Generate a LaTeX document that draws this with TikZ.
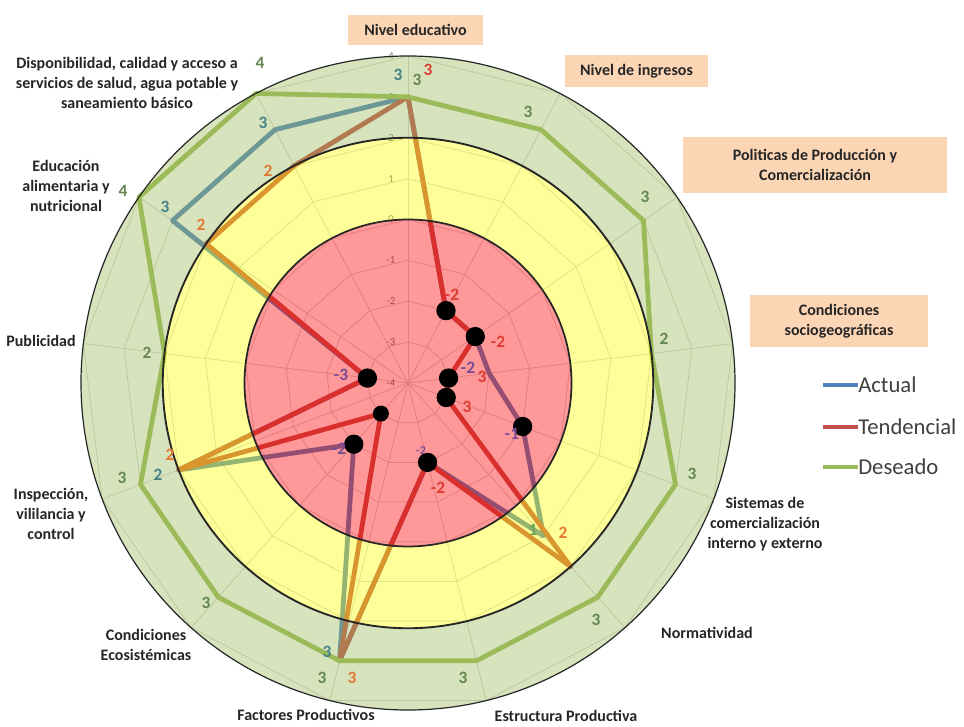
\documentclass[tikz,border=0pt]{standalone}
\usepackage{fontspec}
\setmainfont{Carlito}
\definecolor{cA}{RGB}{79,129,189}
\definecolor{cT}{RGB}{192,80,77}
\definecolor{cD}{RGB}{155,187,89}
\definecolor{zG}{RGB}{155,187,89}
\definecolor{zY}{RGB}{255,255,0}
\definecolor{zR}{RGB}{255,0,0}
\definecolor{peach}{RGB}{252,213,180}
\definecolor{gridc}{RGB}{210,210,210}
\definecolor{catc}{RGB}{38,38,38}
\definecolor{legc}{RGB}{64,64,64}
\definecolor{tickc}{RGB}{120,120,120}
\definecolor{labD}{RGB}{100,135,80}
\definecolor{labA}{RGB}{70,130,135}
\definecolor{labAp}{RGB}{120,75,150}
\definecolor{labAg}{RGB}{105,165,85}
\definecolor{labTr}{RGB}{220,60,50}
\definecolor{labTo}{RGB}{225,120,50}
\begin{document}
\begin{tikzpicture}[x=0.75pt,y=-0.75pt,
  grid/.style={draw=gridc, line width=0.6pt},
  series/.style={line width=3.6pt, line join=round, line cap=round},
  dot/.style={circle, fill=black, inner sep=0pt, minimum size=14.5pt},
  cat/.style={font=\bfseries\fontsize{12}{15}\selectfont, text=catc, align=center, inner sep=1pt},
  catbox/.style={cat, fill=peach},
  val/.style={font=\bfseries\fontsize{13}{13}\selectfont, inner sep=0pt},
  tick/.style={font=\fontsize{8}{8}\selectfont, text=tickc, inner sep=0pt},
  leg/.style={font=\fontsize{17}{17}\selectfont, text=legc, inner sep=0pt, anchor=west},
  legline/.style={line width=3.6pt}
]
\useasboundingbox (0,0) rectangle (964,727);
\fill[white] (0,0) rectangle (964,727);
\coordinate (O) at (408,383);

\begin{scope}[shift={(408,383)}]
  % grid polygons
  \foreach \v in {-3,...,4} {
    \pgfmathsetmacro\r{(\v+4)*40.875}
    \draw[grid] (-90:\r) \foreach \k in {1,...,12}{ -- ({\k*360/13-90}:\r) } -- cycle;
  }
  % spokes
  \foreach \k in {0,...,12} {
    \coordinate (S\k) at ({\k*360/13-90}:327);
    \draw[grid] (0,0) -- (S\k);
  }
  % data points
  \foreach \v [count=\i from 0] in {3,-2,-2,-2,-1,1,-2,3,-2,2,-3,3,3}
    \coordinate (A\i) at ({\i*360/13-90}:{(\v+4)*40.875});
  \foreach \v [count=\i from 0] in {3,-2,-2,-3,-3,2,-2,3,-3,2,-3,2,2}
    \coordinate (T\i) at ({\i*360/13-90}:{(\v+4)*40.875});
  \foreach \v [count=\i from 0] in {3,3,3,2,3,3,3,3,3,3,2,4,4}
    \coordinate (D\i) at ({\i*360/13-90}:{(\v+4)*40.875});
\end{scope}

% axis tick labels
\foreach \v [count=\i] in {-4,...,4}
  \node[tick] (tk\i) at (391,{383-(\v+4)*40.875}) {\v};

% series
\draw[series, cA] (A0) -- (A1) -- (A2) -- (A3) -- (A4) -- (A5) -- (A6) -- (A7) -- (A8) -- (A9) -- (A10) -- (A11) -- (A12) -- cycle;
\draw[series, cT] (T0) -- (T1) -- (T2) -- (T3) -- (T4) -- (T5) -- (T6) -- (T7) -- (T8) -- (T9) -- (T10) -- (T11) -- (T12) -- cycle;
\draw[series, cD] (D0) -- (D1) -- (D2) -- (D3) -- (D4) -- (D5) -- (D6) -- (D7) -- (D8) -- (D9) -- (D10) -- (D11) -- (D12) -- cycle;

% translucent zones
\fill[zG, fill opacity=0.4, even odd rule] (O) circle[radius=245.25pt] (O) circle[radius=183.94pt];
\fill[zY, fill opacity=0.4, even odd rule] (O) circle[radius=183.94pt] (O) circle[radius=122.625pt];
\fill[zR, fill opacity=0.4] (O) circle[radius=122.625pt];
\draw[black!85, line width=0.9pt] (O) circle[radius=245.25pt];
\draw[black!85, line width=1.4pt] (O) circle[radius=183.94pt];
\draw[black!85, line width=1.3pt] (O) circle[radius=122.625pt];

% markers
\node[dot] (mT1) at (T1) {};
\node[dot] (mT2) at (T2) {};
\node[dot] (mT3) at (T3) {};
\node[dot] (mT4) at (T4) {};
\node[dot] (mA4) at (A4) {};
\node[dot] (mT6) at (T6) {};
\node[dot, minimum size=12pt] (mT8) at (T8) {};
\node[dot] (mA8) at (A8) {};
\node[dot] (mT10) at (T10) {};

% value labels: Deseado
\node[val, text=labD] (vD0) at (417,80) {3};
\node[val, text=labD] (vD1) at (528,112) {3};
\node[val, text=labD] (vD2) at (645,197) {3};
\node[val, text=labD] (vD3) at (664,339) {2};
\node[val, text=labD] (vD4) at (692,474) {3};
\node[val, text=labD] (vD5) at (596,620) {3};
\node[val, text=labD] (vD6) at (463,678) {3};
\node[val, text=labD] (vD7) at (322,678) {3};
\node[val, text=labD] (vD8) at (206,603) {3};
\node[val, text=labD] (vD9) at (122,478) {3};
\node[val, text=labD] (vD10) at (147,353) {2};
\node[val, text=labD] (vD11) at (123,191) {4};
\node[val, text=labD] (vD12) at (260,63) {4};
% Actual
\node[val, text=labA] (vA0) at (398,75) {3};
\node[val, text=labA] (vA12) at (263,123) {3};
\node[val, text=labA] (vA11) at (165,207) {3};
\node[val, text=labA] (vA9) at (158,475) {2};
\node[val, text=labA] (vA7) at (327,652) {3};
\node[val, text=labAp] (vA10) at (341,375) {-3};
\node[val, text=labAp] (vA8) at (339,449) {-2};
\node[val, text=labAp, font=\bfseries\fontsize{9}{9}\selectfont] (vA6) at (421,451) {-2};
\node[val, text=labAp] (vA4) at (512,434) {-1};
\node[val, text=labAp] (vA3) at (468,368) {-2};
\node[val, text=labAg] (vA5) at (533,530) {1};
% Tendencial
\node[val, text=labTr] (vT0) at (428,70) {3};
\node[val, text=labTo] (vT12) at (268,171) {2};
\node[val, text=labTo] (vT11) at (201,225) {2};
\node[val, text=labTo] (vT9) at (170,455) {2};
\node[val, text=labTo] (vT7) at (352,678) {3};
\node[val, text=labTr] (vT6) at (438,488) {-2};
\node[val, text=labTo] (vT5) at (563,533) {2};
\node[val, text=labTr] (vT4) at (467,407) {3};
\node[val, text=labTr] (vT3) at (482,377) {3};
\node[val, text=labTr] (vT2) at (498,342) {-2};
\node[val, text=labTr] (vT1) at (452,295) {-2};

% category labels
\node[catbox, minimum width=101pt, minimum height=22.5pt] (bNE) at (415.5,30) {Nivel educativo};
\node[catbox, minimum width=107pt, minimum height=24pt] (bNI) at (636.5,71) {Nivel de ingresos};
\node[catbox, minimum width=198pt, minimum height=42pt] (bPP) at (815,165) {Politicas de Producción y\\Comercialización};
\node[catbox, minimum width=133.5pt, minimum height=39pt] (bCS) at (839,321) {Condiciones\\sociogeográficas};
\node[cat] (lDisp) at (127,83) {Disponibilidad, calidad y acceso a\\servicios de salud, agua potable y\\saneamiento básico};
\node[cat] (lEdu) at (66,186) {Educación\\alimentaria y\\nutricional};
\node[cat] (lPub) at (41,341) {Publicidad};
\node[cat] (lIns) at (51,514) {Inspección,\\vililancia y\\control};
\node[cat] (lEco) at (146,645) {Condiciones\\Ecosistémicas};
\node[cat] (lFac) at (306,715) {Factores Productivos};
\node[cat] (lEst) at (566,716) {Estructura Productiva};
\node[cat] (lNor) at (707,633) {Normatividad};
\node[cat] (lSis) at (765,524) {Sistemas de\\comercialización\\interno y externo};

% legend
\node[leg] (legA) at (858,385) {Actual};
\node[leg] (legT) at (858,427) {Tendencial};
\node[leg] (legD) at (858,467) {Deseado};
\coordinate (legAs) at (823,385);
\coordinate (legTs) at (823,427);
\coordinate (legDs) at (823,467);
\draw[legline, cA] (legAs) -- (legA.west);
\draw[legline, cT] (legTs) -- (legT.west);
\draw[legline, cD] (legDs) -- (legD.west);
\end{tikzpicture}
\end{document}
